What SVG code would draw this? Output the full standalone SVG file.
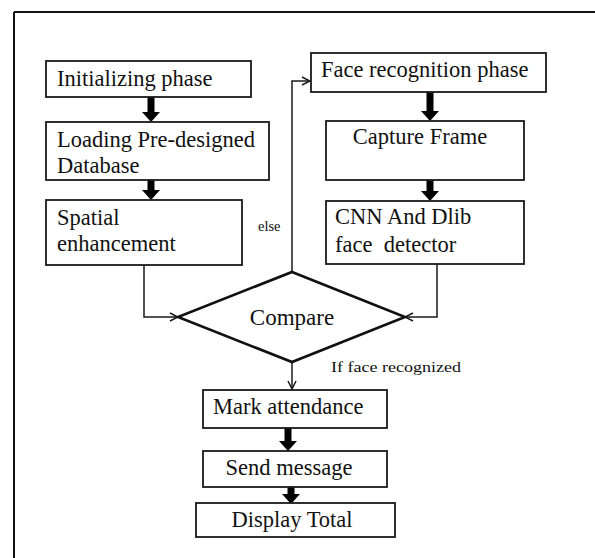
<svg xmlns="http://www.w3.org/2000/svg" width="595" height="558" viewBox="0 0 595 558">
  <style>
    .box { fill: #fff; stroke: #1a1a1a; stroke-width: 1.8; }
    .dia { fill: #fff; stroke: #111; stroke-width: 2.6; }
    .txt { font-family: "Liberation Serif", "Times New Roman", serif; font-size: 22.5px; fill: #111; white-space: pre; }
    .mid { text-anchor: middle; }
    .lbl { font-family: "Liberation Serif", "Times New Roman", serif; font-size: 14px; fill: #111; }
    .thin { fill: none; stroke: #1a1a1a; stroke-width: 1.5; marker-end: url(#open); }
    .thick { stroke: #000; stroke-width: 7; marker-end: url(#solid); }
  </style>
  <defs>
    <marker id="solid" viewBox="0 0 10 18" refX="0" refY="9" markerWidth="10" markerHeight="18" markerUnits="userSpaceOnUse" orient="auto">
      <path d="M0,0 L10,9 L0,18 Z" fill="#000"/>
    </marker>
    <marker id="open" viewBox="0 0 10 10" refX="9" refY="5" markerWidth="10" markerHeight="10" markerUnits="userSpaceOnUse" orient="auto">
      <path d="M1,1 L9,5 L1,9" fill="none" stroke="#1a1a1a" stroke-width="1.5"/>
    </marker>
  </defs>

  <!-- page frame -->
  <g id="frame" stroke="#111" stroke-width="2" fill="none">
    <line x1="14" y1="12" x2="595" y2="12"/>
    <line x1="14" y1="12" x2="14" y2="558"/>
  </g>

  <!-- connectors -->
  <g id="connectors">
    <line class="thick" x1="151" y1="97" x2="151" y2="112"/>
    <line class="thick" x1="151" y1="180" x2="151" y2="190"/>
    <line class="thick" x1="430" y1="92" x2="430" y2="111"/>
    <line class="thick" x1="430" y1="180" x2="430" y2="191"/>
    <line class="thick" x1="288" y1="428" x2="288" y2="441"/>
    <line class="thick" x1="291" y1="487" x2="291" y2="494"/>
    <polyline class="thin" points="144,265 144,317 178,317"/>
    <polyline class="thin" points="437,264 437,317 405,317"/>
    <polyline class="thin" points="292,272 292,81 310,81"/>
    <line class="thin" x1="292" y1="362" x2="292" y2="389"/>
    <text class="lbl" x="258" y="231" style="font-size:14.5px">else</text>
    <text class="lbl" x="331" y="372" textLength="130" lengthAdjust="spacingAndGlyphs">If face recognized</text>
  </g>

  <g id="init">
    <rect class="box" x="46" y="61" width="205" height="36"/>
    <text class="txt" x="57" y="86">Initializing phase</text>
  </g>
  <g id="loading">
    <rect class="box" x="46" y="122" width="223" height="58"/>
    <text class="txt" x="57" y="147">Loading Pre-designed</text>
    <text class="txt" x="57" y="173">Database</text>
  </g>
  <g id="spatial">
    <rect class="box" x="46" y="200" width="196" height="65"/>
    <text class="txt" x="57" y="225">Spatial</text>
    <text class="txt" x="57" y="251">enhancement</text>
  </g>
  <g id="face-recognition">
    <rect class="box" x="311" y="53" width="235" height="39"/>
    <text class="txt" x="321" y="77">Face recognition phase</text>
  </g>
  <g id="capture">
    <rect class="box" x="326" y="121" width="198" height="59"/>
    <text class="txt mid" x="420" y="144">Capture Frame</text>
  </g>
  <g id="detector">
    <rect class="box" x="326" y="201" width="198" height="63"/>
    <text class="txt" x="335" y="224">CNN And Dlib</text>
    <text class="txt" x="335" y="252">face  detector</text>
  </g>
  <g id="compare">
    <polygon class="dia" points="292,272 405,317 292,362 178,317"/>
    <text class="txt mid" x="292" y="325" style="font-size:23px">Compare</text>
  </g>
  <g id="mark">
    <rect class="box" x="203" y="390" width="184" height="38"/>
    <text class="txt" x="213" y="414">Mark attendance</text>
  </g>
  <g id="send">
    <rect class="box" x="203" y="451" width="184" height="36"/>
    <text class="txt mid" x="289" y="475">Send message</text>
  </g>
  <g id="display">
    <rect class="box" x="196" y="503" width="199" height="34"/>
    <text class="txt mid" x="292" y="527">Display Total</text>
  </g>
</svg>
